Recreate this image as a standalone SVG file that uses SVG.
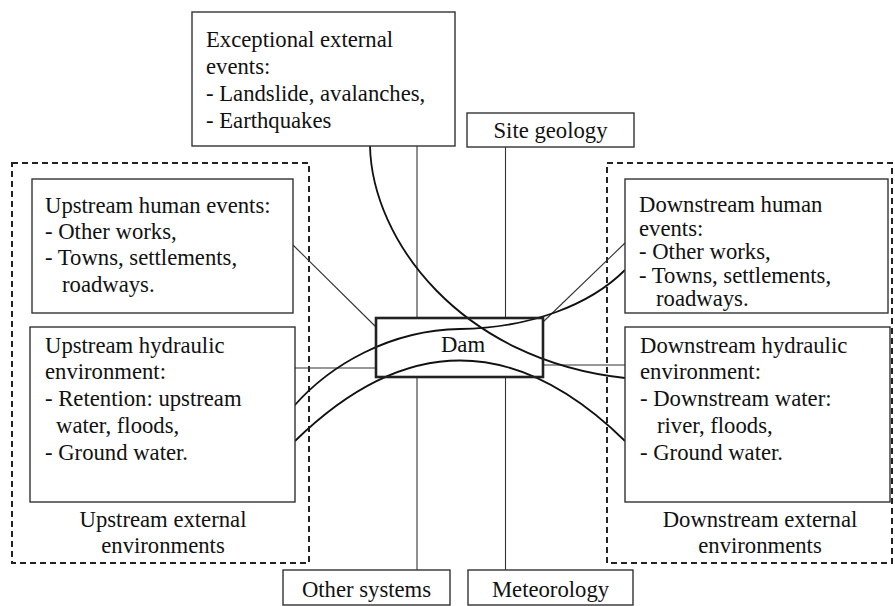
<svg xmlns="http://www.w3.org/2000/svg" width="895" height="606" viewBox="0 0 895 606">
<style>
text{font-family:"Liberation Serif","Times New Roman",serif;font-size:22.7px;fill:#111}
.box{fill:#fff;stroke:#333;stroke-width:1.4}
.dash{fill:none;stroke:#222;stroke-width:2;stroke-dasharray:6 4}
.thin{fill:none;stroke:#333;stroke-width:1.1}
.curve{fill:none;stroke:#111;stroke-width:1.8}
.mid{text-anchor:middle}
</style>
<rect width="895" height="606" fill="#fff"/>
<g id="upstream-env">
<rect class="dash" x="12" y="163" width="297" height="400"/>
<text class="mid" x="163" y="527">Upstream external</text>
<text class="mid" x="163" y="553">environments</text>
</g>
<g id="downstream-env">
<rect class="dash" x="607" y="163" width="285" height="400"/>
<text class="mid" x="760" y="527">Downstream external</text>
<text class="mid" x="760" y="553">environments</text>
</g>
<g id="connectors">
<line class="thin" x1="417" y1="146" x2="417" y2="318"/>
<line class="thin" x1="417" y1="377" x2="417" y2="570"/>
<line class="thin" x1="505.5" y1="147" x2="505.5" y2="318"/>
<line class="thin" x1="505.5" y1="377" x2="505.5" y2="570"/>
<line class="thin" x1="295" y1="368" x2="376" y2="368"/>
<line class="thin" x1="543" y1="365" x2="625" y2="365"/>
<line class="thin" x1="293" y1="245" x2="376" y2="327"/>
<line class="thin" x1="543" y1="322" x2="625" y2="243"/>
<path class="curve" d="M294,406 C330,365 390,330 460,329 C530,328 590,305 625,270"/>
<path class="curve" d="M295,441 Q460,280 625,441"/>
<path class="curve" d="M370,146 C372,240 460,360 625,378"/>
</g>
<g id="exceptional">
<rect class="box" x="192" y="12" width="263" height="134"/>
<text x="206" y="47">Exceptional external</text>
<text x="206" y="74">events:</text>
<text x="206" y="101">- Landslide, avalanches,</text>
<text x="206" y="128">- Earthquakes</text>
</g>
<g id="site-geology">
<rect class="box" x="467" y="113" width="167" height="34"/>
<text class="mid" x="550.5" y="138">Site geology</text>
</g>
<g id="upstream-human">
<rect class="box" x="32" y="179" width="261" height="134"/>
<text x="45" y="213">Upstream human events:</text>
<text x="45" y="239">- Other works,</text>
<text x="45" y="265">- Towns, settlements,</text>
<text x="62" y="292">roadways.</text>
</g>
<g id="upstream-hydraulic">
<rect class="box" x="30" y="327" width="265" height="175"/>
<text x="45" y="353">Upstream hydraulic</text>
<text x="45" y="379">environment:</text>
<text x="45" y="406">- Retention: upstream</text>
<text x="56" y="433">water, floods,</text>
<text x="45" y="460">- Ground water.</text>
</g>
<g id="downstream-human">
<rect class="box" x="625" y="179" width="263" height="134"/>
<text x="639" y="212">Downstream human</text>
<text x="639" y="235.5">events:</text>
<text x="639" y="259">- Other works,</text>
<text x="639" y="282.5">- Towns, settlements,</text>
<text x="656" y="306">roadways.</text>
</g>
<g id="downstream-hydraulic">
<rect class="box" x="625" y="327" width="265" height="175"/>
<text x="640" y="353">Downstream hydraulic</text>
<text x="640" y="379">environment:</text>
<text x="640" y="406">- Downstream water:</text>
<text x="657" y="433">river, floods,</text>
<text x="640" y="460">- Ground water.</text>
</g>
<g id="dam">
<rect x="376" y="318" width="167" height="59" fill="none" stroke="#222" stroke-width="2.6"/>
<text class="mid" x="463" y="352">Dam</text>
</g>
<g id="other-systems">
<rect class="box" x="283" y="570" width="167" height="35"/>
<text class="mid" x="366.5" y="597">Other systems</text>
</g>
<g id="meteorology">
<rect class="box" x="468" y="570" width="165" height="35"/>
<text class="mid" x="550.5" y="597">Meteorology</text>
</g>
</svg>
